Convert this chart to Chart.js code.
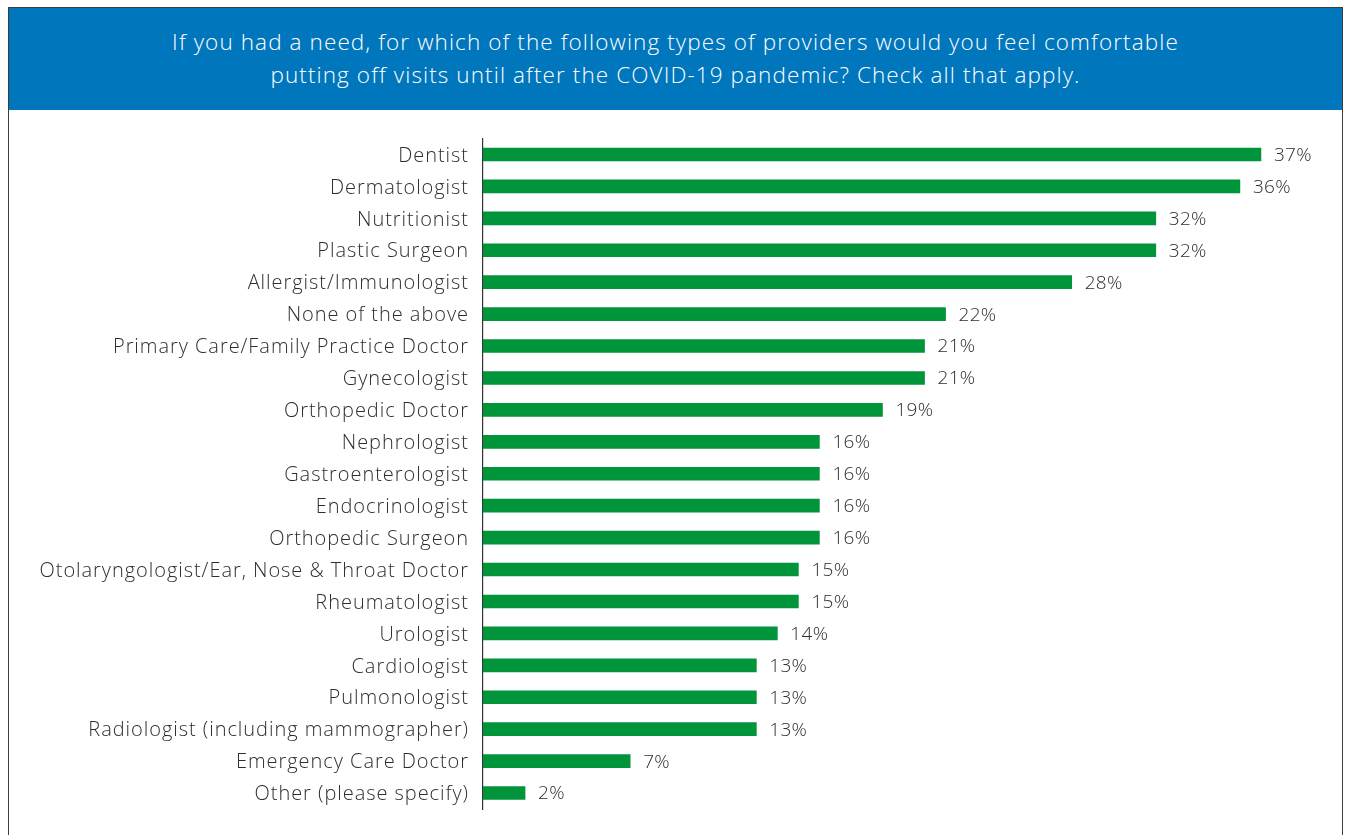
<!DOCTYPE html>
<html>
<head>
<meta charset="utf-8">
<script src="https://cdn.jsdelivr.net/npm/chart.js@4"></script>
<style>
  html, body { margin: 0; padding: 0; background: #fff; }
  body { width: 1350px; height: 835px; overflow: hidden; position: relative; font-family: 'Open Sans', 'Noto Sans', sans-serif; }
  .frame {
    position: absolute; left: 8px; top: 7px; width: 1335px; height: 860px;
    border: 1.5px solid #3c3c3c; box-sizing: border-box;
  }
  .header {
    position: absolute; left: 0; top: 0; right: 0; height: 102px;
    background: #0076bd; color: #fff; text-align: center;
    font-size: 22.5px; font-weight: 300; letter-spacing: 1.1px;
    line-height: 33px; padding-top: 17px; box-sizing: border-box;
  }
  #chart { position: absolute; left: 0; top: 0; }
</style>
</head>
<body>
<div class="frame">
  <div class="header">If you had a need, for which of the following types of providers would you feel comfortable<br>putting off visits until after the COVID-19 pandemic? Check all that apply.</div>
</div>
<canvas id="chart" width="1350" height="835"></canvas>
<script>
'use strict';

const providers = [
  'Dentist',
  'Dermatologist',
  'Nutritionist',
  'Plastic Surgeon',
  'Allergist/Immunologist',
  'None of the above',
  'Primary Care/Family Practice Doctor',
  'Gynecologist',
  'Orthopedic Doctor',
  'Nephrologist',
  'Gastroenterologist',
  'Endocrinologist',
  'Orthopedic Surgeon',
  'Otolaryngologist/Ear, Nose & Throat Doctor',
  'Rheumatologist',
  'Urologist',
  'Cardiologist',
  'Pulmonologist',
  'Radiologist (including mammographer)',
  'Emergency Care Doctor',
  'Other (please specify)',
];
const percents = [37, 36, 32, 32, 28, 22, 21, 21, 19, 16, 16, 16, 16, 15, 15, 14, 13, 13, 13, 7, 2];

const ctx = document.getElementById('chart');
const textFont = { family: "'Open Sans', 'Noto Sans', sans-serif", size: 20, weight: '300' };
const textColor = '#2e2e2e';

// a little letter spacing for all canvas text
const spacing = {
  id: 'spacing',
  beforeDraw(chart) {
    chart.ctx.letterSpacing = '0.95px';
  },
};

// writes "NN%" just past the end of each bar
const valueLabels = {
  id: 'valueLabels',
  afterDatasetsDraw(chart) {
    const c = chart.ctx;
    const meta = chart.getDatasetMeta(0);
    c.save();
    c.letterSpacing = '0.3px';
    c.fillStyle = textColor;
    c.font = `${textFont.weight} 19px ${textFont.family}`;
    c.textAlign = 'left';
    c.textBaseline = 'middle';
    meta.data.forEach((bar, i) => {
      c.fillText(percents[i] + '%', bar.x + 13, bar.y + 1);
    });
    c.restore();
  },
};

new Chart(ctx, {
  type: 'bar',
  data: {
    labels: providers,
    datasets: [
      {
        data: percents,
        backgroundColor: '#00953b',
        barThickness: 13,
      },
    ],
  },
  options: {
    indexAxis: 'y',
    responsive: false,
    animation: false,
    events: [],
    layout: {
      padding: { top: 138.5, bottom: 24.5, left: 0, right: 26 },
    },
    plugins: {
      legend: { display: false },
      tooltip: { enabled: false },
    },
    scales: {
      x: {
        display: false,
        min: 0,
        max: 40,
      },
      y: {
        grid: { display: false, drawTicks: false },
        border: { display: true, color: '#333', width: 1.2 },
        ticks: {
          color: textColor,
          font: textFont,
          padding: 14,
          labelOffset: 1.5,
          autoSkip: false,
        },
        afterFit(scale) {
          scale.width = 483;
        },
      },
    },
  },
  plugins: [spacing, valueLabels],
});
</script>
</body>
</html>
